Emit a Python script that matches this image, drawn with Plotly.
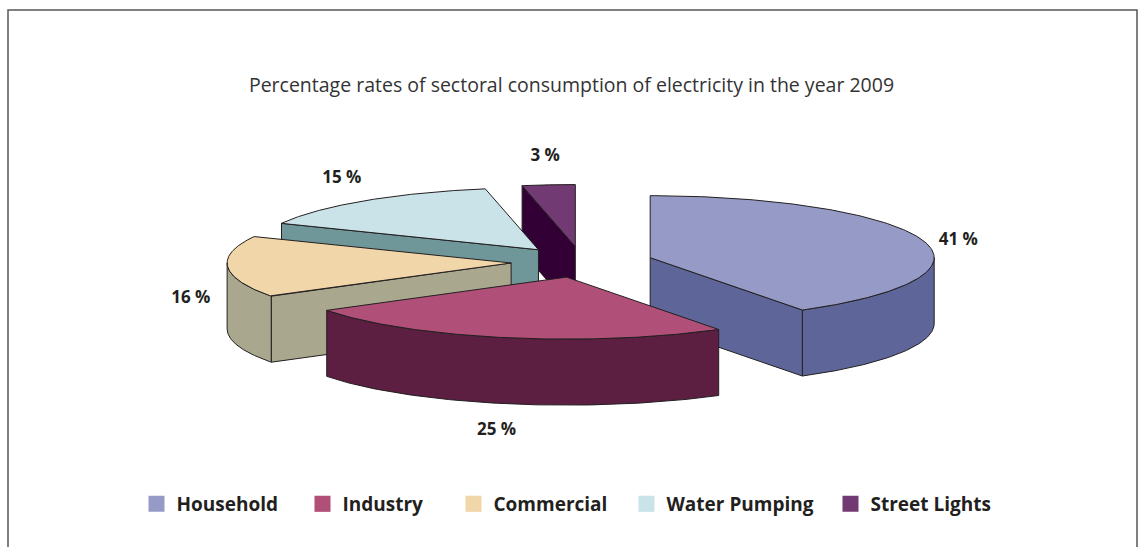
import numpy as np
import plotly.graph_objects as go

# ---- data ----
categories = ["Household", "Industry", "Commercial", "Water Pumping", "Street Lights"]
values = [41, 25, 16, 15, 3]
value_labels = ["41 %", "25 %", "16 %", "15 %", "3 %"]
title_text = "Percentage rates of sectoral consumption of electricity in the year 2009"

# ---- style ----
top_colors = ["#959BC6", "#B04F78", "#F0D6A8", "#CAE3E8", "#713A72"]
side_colors = ["#5E6699", "#5C1F42", "#A9A88F", "#6F9799", "#330036"]
legend_widths = [121, 106, 128, 159, 118]
edge_color = "#231F20"

W, H = 1143, 547
PX = 284.0            # pixels per unit radius
CX_PX, CY_PX = 582, 262
RY = 62 / PX          # vertical squash of the ellipse
DEPTH = 66 / PX       # thickness of the pie
PULL = 0.25           # explode distance
FONT = "Open Sans"

x_range = [-CX_PX / PX, (W - CX_PX) / PX]
y_range = [-(H - CY_PX) / PX, CY_PX / PX]


def pt(theta, ax, ay, r=1.0):
    return ax + r * np.sin(theta), ay + r * RY * np.cos(theta)


fig = go.Figure()

total = float(sum(values))
fr = np.array(values) / total
ends = np.cumsum(fr) * 2 * np.pi
starts = ends - fr * 2 * np.pi
mids = (starts + ends) / 2

order = sorted(range(len(values)), key=lambda i: -np.cos(mids[i]))


def add_poly(xs, ys, color):
    fig.add_trace(go.Scatter(
        x=list(xs) + [xs[0]], y=list(ys) + [ys[0]], mode="lines",
        fill="toself", fillcolor=color,
        line=dict(color=edge_color, width=1),
        hoverinfo="skip", showlegend=False))


for i in order:
    s, e, m = starts[i], ends[i], mids[i]
    ax, ay = PULL * np.sin(m), PULL * RY * np.cos(m)
    # outer curved wall (front-facing part)
    lo, hi = max(s, np.pi / 2), min(e, 3 * np.pi / 2)
    if hi > lo:
        t = np.linspace(lo, hi, 80)
        xt, yt = pt(t, ax, ay)
        xs = np.concatenate([xt, xt[::-1]])
        ys = np.concatenate([yt, (yt - DEPTH)[::-1]])
        add_poly(xs, ys, side_colors[i])
    # radial walls
    if np.sin(s) < -1e-6:
        px_, py_ = pt(s, ax, ay)
        add_poly([ax, px_, px_, ax], [ay, py_, py_ - DEPTH, ay - DEPTH], side_colors[i])
    if np.sin(e) > 1e-6:
        px_, py_ = pt(e, ax, ay)
        add_poly([ax, px_, px_, ax], [ay, py_, py_ - DEPTH, ay - DEPTH], side_colors[i])
    # top face
    t = np.linspace(s, e, 160)
    xt, yt = pt(t, ax, ay)
    add_poly(np.concatenate([[ax], xt]), np.concatenate([[ay], yt]), top_colors[i])

# value labels
lx, ly = [], []
for i in range(len(values)):
    m = mids[i]
    ax, ay = PULL * np.sin(m), PULL * RY * np.cos(m)
    lx.append(ax + 1.13 * np.sin(m))
    ly.append(ay + 1.45 * RY * np.cos(m) - DEPTH * np.clip(0.4 - np.cos(m), 0, 1))
fig.add_trace(go.Scatter(
    x=lx, y=ly, mode="text", text=value_labels,
    textfont=dict(family=FONT, size=17, color=edge_color, weight="bold"),
    hoverinfo="skip", showlegend=False))

# legend entries
for i, c in enumerate(categories):
    fig.add_trace(go.Scatter(
        x=[None], y=[None], mode="markers", name=c,
        marker=dict(symbol="square", size=16, color=top_colors[i]),
        legendwidth=legend_widths[i], showlegend=True))

fig.update_layout(
    width=W, height=H,
    margin=dict(l=0, r=0, t=0, b=0),
    paper_bgcolor="white", plot_bgcolor="white",
    xaxis=dict(range=x_range, visible=False, fixedrange=True),
    yaxis=dict(range=y_range, visible=False, fixedrange=True),
    title=dict(text=title_text, x=0.5, xanchor="center", y=1 - 85 / H, yanchor="middle",
               font=dict(family=FONT, size=19.5, color="#333333")),
    legend=dict(orientation="h", x=0.5 - 6.5 / W, xanchor="center", y=1 - 504 / H, yanchor="middle",
                font=dict(family=FONT, size=19, color=edge_color, weight="bold"),
                itemclick=False, itemdoubleclick=False),
    shapes=[dict(type="rect", xref="paper", yref="paper",
                 x0=8 / W, x1=1137 / W, y0=-0.2, y1=1 - 10 / H,
                 line=dict(color="#555555", width=1.5), fillcolor="rgba(0,0,0,0)", layer="below")],
)

fig.write_html("out.html")
